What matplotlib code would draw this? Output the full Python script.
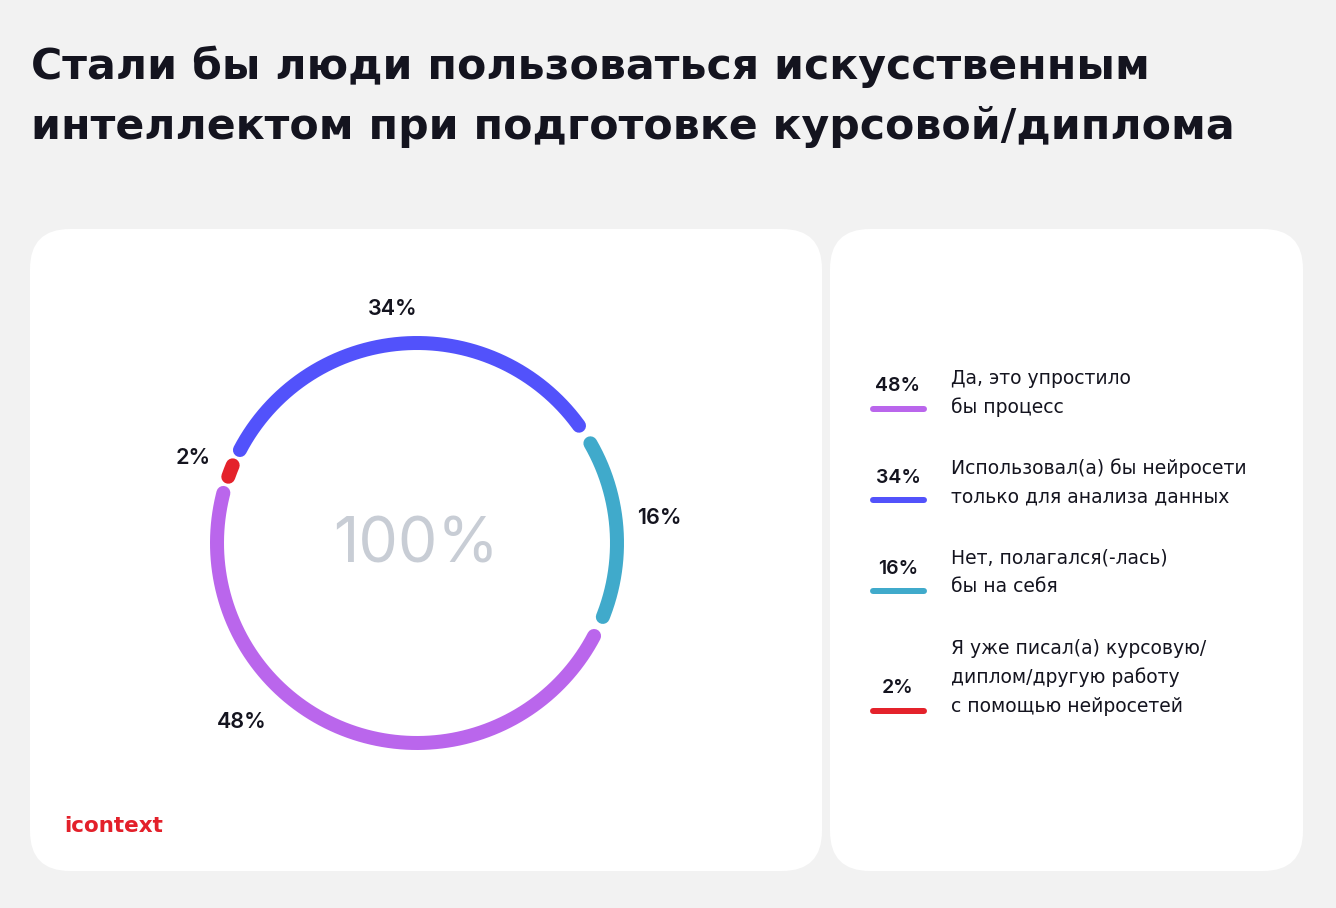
import numpy as np
import matplotlib
matplotlib.use("Agg")
import matplotlib.pyplot as plt
from matplotlib.patches import FancyBboxPatch

# ---- data ----
title_lines = ["Стали бы люди пользоваться искусственным",
               "интеллектом при подготовке курсовой/диплома"]
ring_order = ["red", "blue", "cyan", "purple"]  # clockwise order on the ring
ring_values = [2, 34, 16, 48]
ring_labels = ["2%", "34%", "16%", "48%"]
legend_values = ["48%", "34%", "16%", "2%"]
legend_texts = ["Да, это упростило\nбы процесс",
                "Использовал(а) бы нейросети\nтолько для анализа данных",
                "Нет, полагался(-лась)\nбы на себя",
                "Я уже писал(а) курсовую/\nдиплом/другую работу\nс помощью нейросетей"]
center_text = "100%"
logo_text = "icontext"

colors = {"red": "#e4222b", "blue": "#5252fb", "cyan": "#40aacb", "purple": "#ba66ec"}
legend_colors = ["purple", "blue", "cyan", "red"]

plt.rcParams['font.family'] = ['Inter', 'DejaVu Sans']
WIDE = ['DejaVu Sans']
W, H = 1336, 908
fig = plt.figure(figsize=(W / 100, H / 100), dpi=100, facecolor="#f2f2f2")
ax = fig.add_axes([0, 0, 1, 1])
ax.set_xlim(0, W)
ax.set_ylim(H, 0)
ax.set_aspect("equal")
ax.axis("off")

dark = "#14141f"

# title
for i, t in enumerate(title_lines):
    ax.text(31, 79 + i * 60, t, fontsize=30.7, fontweight="bold", color=dark,
            ha="left", va="baseline", family=WIDE)

# panels
for (x0, x1) in [(30, 822), (830, 1303)]:
    p = FancyBboxPatch((x0, 229), x1 - x0, 871 - 229,
                       boxstyle="round,pad=0,rounding_size=40",
                       fc="white", ec="none")
    ax.add_patch(p)

# ring
cx, cy, R = 417, 543, 200
theta0 = 162.5
trim = 3.0
min_core = 3.5
lw_pt = 14 * 0.72
total = sum(ring_values)
start = theta0
label_overrides = {"48%": (-134.5, 250), "34%": (96, 236), "16%": (6, 244)}
for key, val, lab in zip(ring_order, ring_values, ring_labels):
    span = val / total * 360
    a0, a1 = start, start - span
    mid = (a0 + a1) / 2
    core = max(span - 2 * trim, min_core)
    th = np.radians(np.linspace(mid + core / 2, mid - core / 2, 200))
    ax.plot(cx + R * np.cos(th), cy - R * np.sin(th), color=colors[key],
            lw=lw_pt, solid_capstyle="round")
    ang, lr = label_overrides.get(lab, (mid, 240))
    la = np.radians(ang)
    ax.text(cx + lr * np.cos(la), cy - lr * np.sin(la) + 1, lab, fontsize=15.5,
            fontweight="semibold", color=dark, ha="center", va="center")
    start = a1

ax.text(cx - 1, cy + 3, center_text, fontsize=45, color="#c8cdd5",
        ha="center", va="center")

# legend
rows_y = [386, 478, 569, 688]
bar_y = [409, 500, 591, 711]
text_first = [378, 468, 558, 648]
line_step = 29
for v, t, c, ry, by, ty in zip(legend_values, legend_texts, legend_colors,
                               rows_y, bar_y, text_first):
    ax.text(898, ry, v, fontsize=14, fontweight="semibold", color=dark,
            ha="center", va="center")
    ax.plot([873, 924], [by, by], color=colors[c], lw=6 * 0.72,
            solid_capstyle="round")
    for j, line in enumerate(t.split("\n")):
        ax.text(951, ty + j * line_step, line, fontsize=13.5, color=dark,
                ha="left", va="center", family=WIDE)

ax.text(64, 826, logo_text, fontsize=15.5, fontweight="bold", color="#e3202a",
        ha="left", va="center", family=WIDE)

fig.savefig("out.png", dpi=100, facecolor=fig.get_facecolor())
